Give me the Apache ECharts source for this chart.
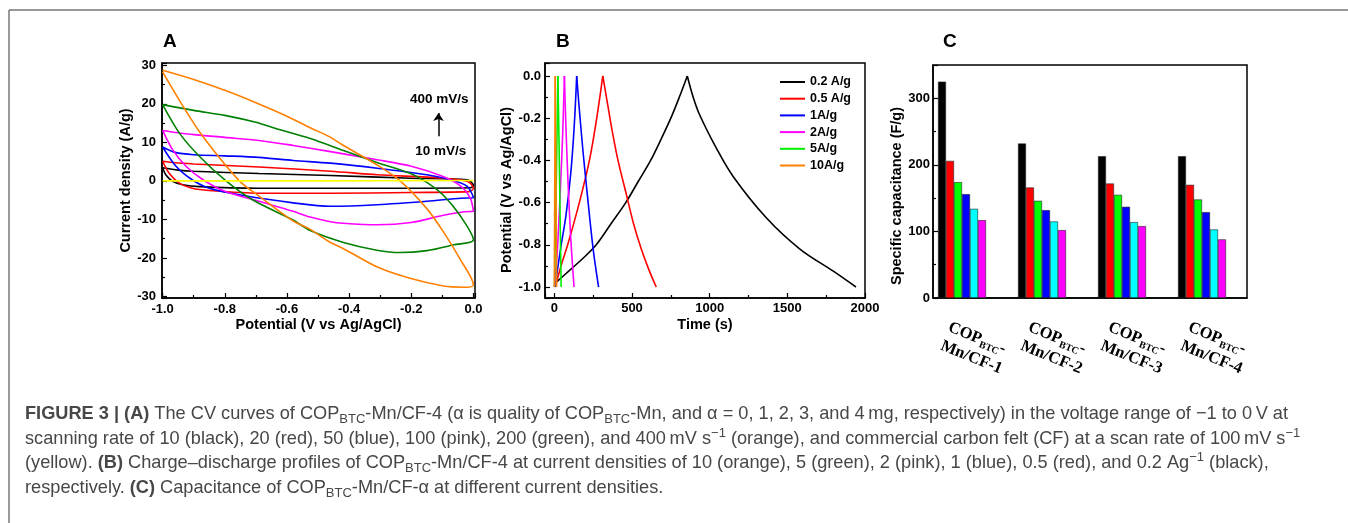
<!DOCTYPE html>
<html><head><meta charset="utf-8">
<script src="https://cdn.jsdelivr.net/npm/echarts@6/dist/echarts.min.js"></script>
<style>html,body{margin:0;padding:0;background:#fff}#c{width:1348px;height:523px}</style>
</head><body><div id="c"></div>
<script>
// ---------- Panel A: CV loops [potential (V), current density (A/g)] ----------
const cv10 = [[-1.0,3.4],[-0.95,2.8],[-0.9,2.5],[-0.69,1.9],[-0.46,1.4],[-0.2,0.7],[-0.02,0.3],[0,-1.2],[-0.01,-1.8],[-0.2,-1.9],[-0.46,-1.9],[-0.69,-1.9],[-0.88,-1.5],[-0.935,-1.0],[-0.968,-0.1],[-0.99,1.6],[-1.0,3.4]];
const cv20 = [[-1.0,5.1],[-0.96,4.7],[-0.9,4.4],[-0.69,3.6],[-0.46,2.5],[-0.31,1.6],[-0.1,0.7],[-0.02,-0.1],[0,-1.9],[-0.015,-2.8],[-0.2,-3.0],[-0.46,-3.2],[-0.69,-3.2],[-0.85,-2.5],[-0.905,-1.9],[-0.946,-0.6],[-0.979,2.0],[-1.0,5.1]];
const cv50 = [[-1.0,8.8],[-0.96,7.4],[-0.9,6.8],[-0.8,6.5],[-0.69,6.1],[-0.58,5.3],[-0.46,4.6],[-0.31,3.3],[-0.15,1.6],[-0.075,0.3],[-0.02,-1.4],[0,-4.4],[-0.04,-4.5],[-0.15,-5.3],[-0.31,-6.2],[-0.46,-6.6],[-0.58,-5.7],[-0.74,-3.8],[-0.85,-1.9],[-0.905,0.3],[-0.957,3.8],[-1.0,8.8]];
const cv100 = [[-1.0,13.1],[-0.95,12.5],[-0.9,12.0],[-0.8,11.3],[-0.69,10.5],[-0.58,9.2],[-0.46,7.6],[-0.31,5.5],[-0.2,3.8],[-0.1,1.2],[-0.04,-1.4],[-0.01,-4.5],[0,-7.9],[-0.03,-8.0],[-0.1,-9.0],[-0.2,-10.8],[-0.31,-11.4],[-0.42,-11.0],[-0.46,-10.6],[-0.525,-9.4],[-0.58,-7.9],[-0.69,-5.3],[-0.8,-2.7],[-0.87,0.3],[-0.925,3.8],[-0.968,8.1],[-1.0,13.1]];
const cv200 = [[-1.0,19.8],[-0.9,18.3],[-0.8,17.0],[-0.7,15.2],[-0.636,13.6],[-0.525,11.0],[-0.418,7.9],[-0.311,4.8],[-0.204,2.0],[-0.15,-0.4],[-0.096,-3.8],[-0.043,-9.0],[0,-15.3],[-0.064,-16.6],[-0.15,-18.1],[-0.236,-18.6],[-0.311,-18.0],[-0.418,-16.0],[-0.525,-12.9],[-0.582,-10.1],[-0.711,-4.9],[-0.796,0],[-0.882,6.4],[-0.946,12.4],[-1.0,19.8]];
const cv400 = [[-1.0,28.7],[-0.9,26.3],[-0.8,23.5],[-0.7,20.3],[-0.6,16.8],[-0.525,13.8],[-0.464,11.5],[-0.418,9.2],[-0.311,4.2],[-0.236,0],[-0.15,-7.2],[-0.096,-13.3],[-0.043,-20.3],[0,-27.0],[-0.032,-27.6],[-0.096,-27.3],[-0.204,-25.3],[-0.311,-22.3],[-0.418,-17.6],[-0.464,-15.8],[-0.525,-12.6],[-0.582,-10.3],[-0.689,-4.0],[-0.753,0],[-0.871,11.6],[-0.936,19.6],[-1.0,28.3]];
const cvCF = [[-1.0,0],[-0.5,0],[0,0.1]];
const cvNotes = ['400 mV/s','10 mV/s'];

// ---------- Panel B: charge-discharge [time (s), potential (V)] ----------
const gcdNames = ['0.2 A/g','0.5 A/g','1A/g','2A/g','5A/g','10A/g'];
const gcd02 = [[15,-0.976],[100,-0.92],[190,-0.86],[270,-0.80],[365,-0.70],[460,-0.60],[540,-0.50],[620,-0.40],[687,-0.30],[750,-0.20],[805,-0.10],[856,0],[893,-0.098],[936,-0.185],[1043,-0.342],[1151,-0.476],[1366,-0.673],[1581,-0.82],[1796,-0.925],[1942,-1.0]];
const gcd05 = [[6,-1.0],[43,-0.9],[86,-0.8],[161,-0.6],[226,-0.4],[273,-0.2],[312,0],[340,-0.12],[370,-0.25],[410,-0.40],[460,-0.55],[510,-0.70],[560,-0.82],[610,-0.92],[656,-1.0]];
const gcd1 = [[4,-1.0],[20,-0.92],[40,-0.82],[75,-0.66],[106,-0.46],[128,-0.24],[144,0],[160,-0.15],[185,-0.36],[215,-0.58],[250,-0.82],[285,-1.0]];
const gcd2 = [[2,-1.0],[20,-0.82],[40,-0.52],[55,-0.25],[65,0],[73,-0.2],[88,-0.5],[106,-0.77],[127,-1.0]];
const gcd5 = [[1,-1.0],[12,-0.55],[23,0],[30,-0.3],[37,-0.65],[44,-1.0]];
const gcd10 = [[0,-1.0],[6,0],[10,-0.45],[15,-1.0]];

// ---------- Panel C: specific capacitance (F/g) ----------
const capGroups = ['Mn/CF-1','Mn/CF-2','Mn/CF-3','Mn/CF-4'];
const capPrefix = 'COP', capSub = 'BTC';
const cap02 = [325,232,213,213];
const cap05 = [206,166,172,170];
const cap1  = [174,146,155,148];
const cap2  = [156,132,137,129];
const cap5  = [134,115,114,103];
const cap10 = [117,102,108,88];

const F = 'Liberation Sans, Arial, sans-serif';
const chart = echarts.init(document.getElementById('c'), null, {renderer:'canvas'});

function axisBase(extra){
  return Object.assign({
    type:'value', splitLine:{show:false},
    axisLine:{show:true, onZero:false, lineStyle:{color:'#000', width:1.5}},
    axisTick:{show:true, inside:true, length:5, lineStyle:{color:'#000', width:1.2}},
    minorTick:{show:true, splitNumber:2, length:3, lineStyle:{color:'#000', width:1.2}},
    nameTextStyle:{color:'#000', fontWeight:'bold', fontSize:14.5, fontFamily:F},
    nameLocation:'middle'
  }, extra);
}
function lab(extra){
  return Object.assign({color:'#000', fontWeight:'bold', fontSize:13, fontFamily:F, showMinLabel:false, showMaxLabel:false}, extra);
}

const cvSets = [[cv10,'#000000'],[cv20,'#ff0000'],[cv50,'#0000ff'],[cv100,'#ff00ff'],[cv200,'#008000'],[cv400,'#ff8000'],[cvCF,'#ffff00']];
const series = [];
cvSets.forEach(([d,c],i)=>{
  series.push({type:'line', name:'cv'+i, xAxisIndex:0, yAxisIndex:0, data:d, symbol:'none', smooth:0.3,
    lineStyle:{color:c, width:1.6}, itemStyle:{color:c}, silent:true, z:2+i});
});
series[6].markPoint = {symbol:'circle', symbolSize:1, silent:true, itemStyle:{color:'rgba(0,0,0,0)'},
  label:{show:true, position:'inside', color:'#000', fontWeight:'bold', fontSize:13.5, fontFamily:F, formatter:p=>p.name},
  data:[{name:cvNotes[0], coord:[-0.11,21.3]},{name:cvNotes[1], coord:[-0.105,7.7]}]};
series[6].markLine = {silent:true, symbol:['none','arrow'], symbolSize:8, label:{show:false},
  lineStyle:{color:'#000', width:1.5, type:'solid'},
  data:[[{coord:[-0.1125,11.6]},{coord:[-0.1125,17.6]}]]};

const gcdSets = [[gcd02,'#000000'],[gcd05,'#ff0000'],[gcd1,'#0000ff'],[gcd2,'#ff00ff'],[gcd5,'#00ee00'],[gcd10,'#ff8000']];
gcdSets.forEach(([d,c],i)=>{
  let pk = 0; d.forEach((p,j)=>{ if(p[1] > d[pk][1]) pk = j; });
  [d.slice(0,pk+1), d.slice(pk)].forEach(part=>{
    series.push({type:'line', name:gcdNames[i], xAxisIndex:1, yAxisIndex:1, data:part, symbol:'none',
      smooth:part.length>3?0.35:false, lineStyle:{color:c, width:1.6}, itemStyle:{color:c}, silent:true, z:2+i});
  });
});

const capSets = [[cap02,'#000000'],[cap05,'#ff0000'],[cap1,'#00ff00'],[cap2,'#0000ff'],[cap5,'#00ffff'],[cap10,'#ff00ff']];
capSets.forEach(([v,c],i)=>{
  series.push({type:'bar', name:'cap'+i, xAxisIndex:2, yAxisIndex:2, data:v.map((y,k)=>[k,y]),
    barWidth:8, barGap:'0%', itemStyle:{color:c, borderColor:'#222', borderWidth:0.6}, silent:true});
});

const capLabel = v=>{
  const k = Math.round(v);
  if (Math.abs(v-k)>1e-6 || k<0 || k>=capGroups.length) return '';
  return '{a|'+capPrefix+'}{s|'+capSub+'}{a|-}\n{a|'+capGroups[k]+'}';
};
const capRich = {
  a:{fontFamily:'Liberation Serif, Times New Roman, serif', fontWeight:'bold', fontSize:16.5, lineHeight:20, color:'#000'},
  s:{fontFamily:'Liberation Serif, Times New Roman, serif', fontWeight:'bold', fontSize:10, lineHeight:15, verticalAlign:'bottom', color:'#000'}
};

const CF = 'Liberation Sans, Arial, sans-serif';
const capRichC = {
  n:{fontFamily:CF, fontSize:18.2, color:'#474747', lineHeight:24},
  b:{fontFamily:CF, fontSize:18.2, fontWeight:'bold', color:'#474747', lineHeight:24},
  s:{fontFamily:CF, fontSize:13, color:'#474747', lineHeight:16, verticalAlign:'bottom'},
  p:{fontFamily:CF, fontSize:13, color:'#474747', lineHeight:14, verticalAlign:'top'}
};
const captionLines = [
  '{b|FIGURE 3 | (A)}{n| The CV curves of COP}{s|BTC}{n|-Mn/CF-4 (α is quality of COP}{s|BTC}{n|-Mn, and α = 0, 1, 2, 3, and 4\u2009mg, respectively) in the voltage range of \u22121 to 0\u2009V at}',
  '{n|scanning rate of 10 (black), 20 (red), 50 (blue), 100 (pink), 200 (green), and 400\u2009mV s}{p|\u22121}{n| (orange), and commercial carbon felt (CF) at a scan rate of 100\u2009mV s}{p|\u22121}',
  '{n|(yellow). }{b|(B)}{n| Charge\u2013discharge profiles of COP}{s|BTC}{n|-Mn/CF-4 at current densities of 10 (orange), 5 (green), 2 (pink), 1 (blue), 0.5 (red), and 0.2 Ag}{p|\u22121}{n| (black),}',
  '{n|respectively. }{b|(C)}{n| Capacitance of COP}{s|BTC}{n|-Mn/CF-\u03b1 at different current densities.}'
];
const captionY = [414, 438.5, 463, 487.5];

const graphics = [
  {type:'line', shape:{x1:9,y1:10,x2:1348,y2:10}, style:{stroke:'#777', lineWidth:1.5}, silent:true},
  {type:'line', shape:{x1:9,y1:10,x2:9,y2:523}, style:{stroke:'#777', lineWidth:1.5}, silent:true}
];
[['A',163],['B',556],['C',943]].forEach(([t,x])=>{
  graphics.push({type:'text', silent:true, style:{x:x, y:42, text:t, fill:'#000', font:'bold 19px '+F, textAlign:'left', textVerticalAlign:'middle'}});
});
captionLines.forEach((t,i)=>{
  graphics.push({type:'text', silent:true, style:{x:25, y:captionY[i], text:t, rich:capRichC, fill:'#474747', font:'18.2px '+CF, align:'left', verticalAlign:'middle'}});
});

const option = {
  animation:false,
  backgroundColor:'#fff',
  grid:[
    {left:162, top:63, width:313, height:235, show:true, borderColor:'#000', borderWidth:1.5, backgroundColor:'transparent'},
    {left:545, top:63, width:320, height:235, show:true, borderColor:'#000', borderWidth:1.5, backgroundColor:'transparent'},
    {left:933, top:65, width:314, height:233, show:true, borderColor:'#000', borderWidth:1.5, backgroundColor:'transparent'}
  ],
  legend:{
    data:gcdNames, orient:'vertical', left:779, top:75.5, padding:0, itemGap:3.7, itemWidth:25, itemHeight:12,
    itemStyle:{opacity:0}, lineStyle:{width:2},
    textStyle:{color:'#000', fontWeight:'bold', fontSize:12.5, fontFamily:F}, selectedMode:false
  },
  xAxis:[
    axisBase({gridIndex:0, min:-1.002, max:0.005, name:'Potential (V vs Ag/AgCl)', nameGap:19,
      axisLabel:lab({margin:5, formatter:v=>v.toFixed(1)})}),
    axisBase({gridIndex:1, min:-60, max:2000, name:'Time (s)', nameGap:19,
      axisLabel:lab({margin:4, showMaxLabel:true, formatter:v=>String(Math.round(v))})}),
    axisBase({gridIndex:2, min:-0.3625, max:3.5625, axisTick:{show:false}, minorTick:{show:false}, axisLabel:{show:false}}),
    {type:'value', gridIndex:2, position:'bottom', min:-0.15, max:3.775, splitLine:{show:false},
      axisLine:{show:false}, axisTick:{show:false},
      axisLabel:{show:true, rotate:-22, margin:38, formatter:capLabel, rich:capRich}}
  ],
  yAxis:[
    axisBase({gridIndex:0, min:-30.4, max:30.6, name:'Current density (A/g)', nameGap:15,
      axisLabel:lab({margin:6})}),
    axisBase({gridIndex:1, min:-1.052, max:0.0615, name:'Potential (V vs Ag/AgCl)', nameGap:26,
      nameTextStyle:{color:'#000', fontWeight:'bold', fontSize:14.5, fontFamily:F, padding:[0,19,0,0]},
      axisLabel:lab({margin:4, formatter:v=>v.toFixed(1)})}),
    axisBase({gridIndex:2, min:0, max:350, interval:100, name:'Specific capacitance (F/g)', nameGap:22,
      nameTextStyle:{color:'#000', fontWeight:'bold', fontSize:14.5, fontFamily:F, padding:[0,29,0,0]},
      axisLabel:lab({margin:3, showMinLabel:true})})
  ],
  series:series,
  graphic:graphics
};
chart.setOption(option);
</script>
</body></html>
